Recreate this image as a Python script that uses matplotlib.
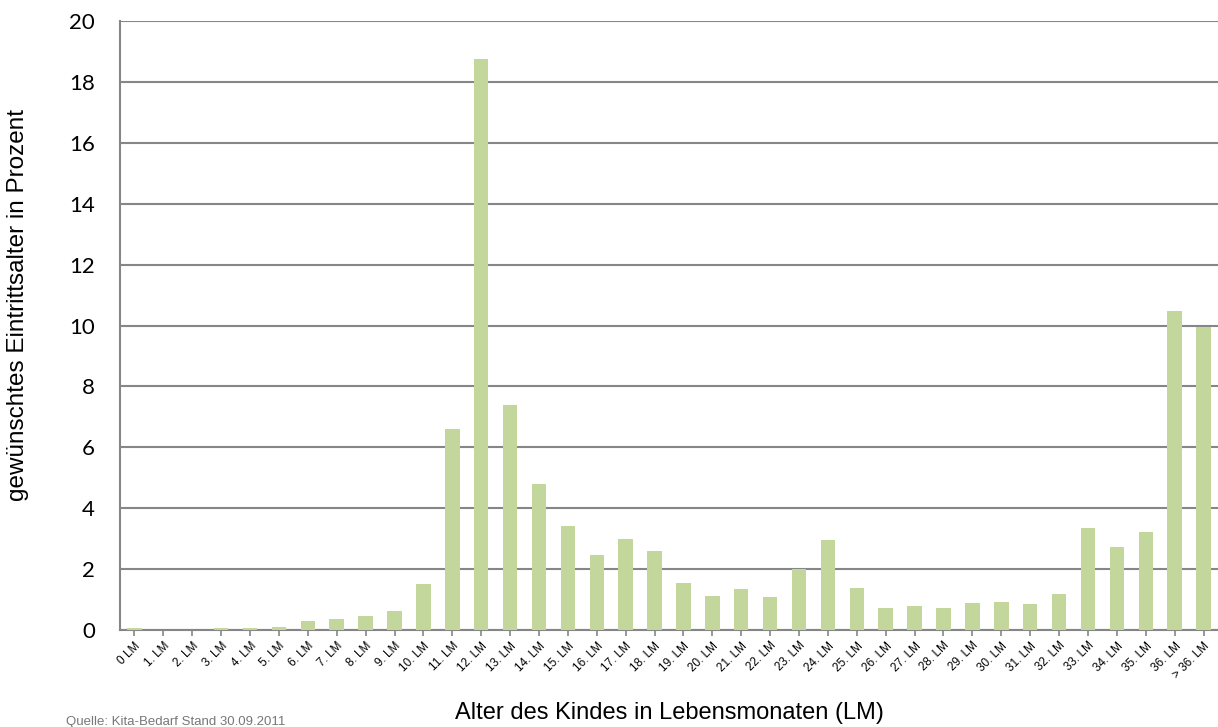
import matplotlib.pyplot as plt
import numpy as np

# Wunschalter beim Kita-Eintritt, Anteil in Prozent
categories = ["0 LM"] + [f"{i}. LM" for i in range(1, 37)] + ["> 36. LM"]
shares = [
    0.07, 0.0, 0.0, 0.07, 0.06, 0.1, 0.3, 0.35, 0.45, 0.62,
    1.5, 6.6, 18.75, 7.4, 4.8, 3.4, 2.45, 3.0, 2.6, 1.55,
    1.12, 1.35, 1.1, 1.99, 2.97, 1.38, 0.72, 0.79, 0.71, 0.89,
    0.92, 0.85, 1.18, 3.34, 2.72, 3.21, 10.48, 9.95,
]
y_ticks = list(range(0, 21, 2))

grey = "#868686"
fig = plt.figure(figsize=(12.18, 7.27), dpi=100)
ax = fig.add_axes([120 / 1218, 97 / 727, 1098 / 1218, 609 / 727])

x = np.arange(len(categories))
ax.bar(x, shares, width=0.5, color="#C3D69B", zorder=3)

ax.set_xlim(-0.5, len(categories) - 0.5)
ax.set_ylim(0, 20)
ax.set_yticks(y_ticks)
ax.set_yticklabels([str(v) for v in y_ticks], family="Lato", fontsize=16)
ax.tick_params(axis="y", length=0, pad=18)
ax.yaxis.grid(True, color=grey, linewidth=1.5, zorder=0)

ax.set_xticks(x)
ax.set_xticklabels(categories, rotation=45, ha="right", rotation_mode="anchor",
                   family="Liberation Sans", fontsize=8.5)
ax.tick_params(axis="x", length=4, width=1.2, color=grey, pad=3)

for side in ["top", "right"]:
    ax.spines[side].set_visible(False)
for side in ["left", "bottom"]:
    ax.spines[side].set_color(grey)
    ax.spines[side].set_linewidth(1.5)

fig.text(669 / 1218, 1 - 713 / 727, "Alter des Kindes in Lebensmonaten (LM)",
         family="Liberation Sans", fontsize=17, ha="center", va="center")
fig.text(18 / 1218, 1 - 305 / 727, "gewünschtes Eintrittsalter in Prozent",
         family="Liberation Sans", fontsize=17.5, rotation=90, ha="center", va="center")
fig.text(66 / 1218, 1 - 716 / 727, "Quelle: Kita-Bedarf Stand 30.09.2011",
         family="Liberation Sans", fontsize=9.5, color="#777777", ha="left", va="top")

fig.savefig("out.png", dpi=100)
